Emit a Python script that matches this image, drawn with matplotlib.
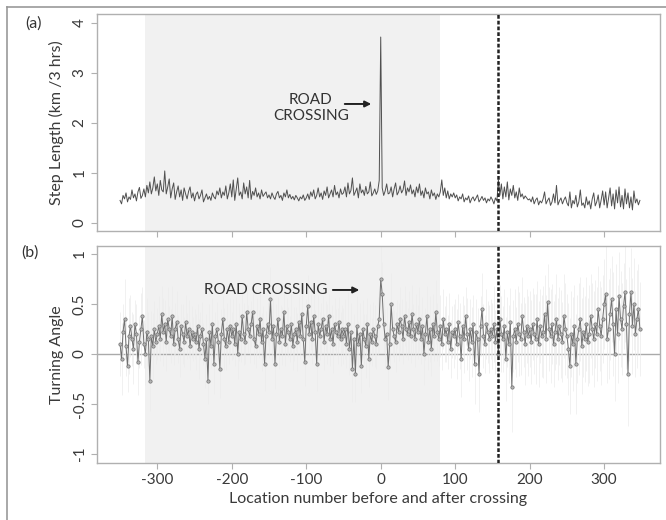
import matplotlib.pyplot as plt
from matplotlib.lines import Line2D
import numpy as np

plt.rcParams['font.family'] = ['Lato', 'DejaVu Sans']
plt.rcParams['axes.unicode_minus'] = False

# location numbers (every second location)
loc = np.arange(-350, 350, 2)

# step length, km / 3 hrs (x100)
step_len = [
    45, 38, 55, 48, 60, 42, 52, 47, 66, 50, 58, 44, 62, 71, 49, 55, 68, 52, 75, 60, 82, 58, 70, 92, 64,
    78, 55, 85, 66, 62, 104, 58, 72, 88, 50, 68, 80, 47, 62, 74, 52, 66, 45, 70, 58, 48, 63, 72, 50, 60,
    44, 57, 62, 48, 55, 66, 42, 50, 58, 47, 53, 45, 60, 52, 48, 64, 56, 70, 50, 62, 55, 74, 48, 60, 78,
    52, 86, 45, 68, 90, 55, 62, 48, 80, 58, 72, 50, 85, 47, 63, 55, 70, 52, 60, 48, 66, 53, 58, 62, 50,
    56, 48, 60, 52, 47, 58, 63, 50, 55, 45, 60, 52, 66, 50, 57, 48, 53, 46, 55, 50, 44, 52, 48, 56, 45,
    50, 58, 47, 62, 53, 66, 48, 55, 70, 52, 60, 47, 64, 55, 72, 50, 58, 66, 52, 75, 56, 62, 50, 68, 57,
    60, 72, 52, 80, 58, 65, 90, 55, 62, 70, 50, 78, 60, 66, 55, 73, 58, 62, 82, 54, 60, 68, 57, 64, 85,
    372, 70, 55, 64, 78, 58, 60, 72, 52, 68, 80, 56, 62, 74, 60, 66, 84, 55, 70, 62, 76, 58, 66, 52, 72,
    60, 78, 55, 64, 50, 70, 58, 62, 48, 66, 54, 60, 47, 58, 52, 62, 86, 55, 70, 50, 64, 48, 58, 52, 60,
    50, 56, 44, 52, 48, 58, 42, 50, 46, 54, 40, 48, 52, 44, 50, 56, 42, 47, 53, 45, 50, 40, 48, 44, 52,
    46, 38, 50, 44, 86, 55, 78, 48, 72, 52, 82, 46, 68, 55, 75, 50, 62, 45, 70, 52, 58, 48, 54, 50, 46,
    48, 42, 52, 38, 46, 50, 36, 44, 40, 48, 62, 38, 45, 50, 35, 42, 58, 40, 75, 36, 44, 50, 38, 46, 52,
    40, 34, 62, 30, 45, 38, 55, 32, 42, 66, 35, 40, 30, 52, 36, 44, 28, 48, 60, 34, 42, 56, 30, 46, 64,
    36, 62, 30, 50, 70, 34, 58, 28, 66, 40, 72, 32, 55, 28, 68, 38, 60, 30, 52, 26, 64, 40, 48, 36, 45,
]

# turning angle (x100)
turn_ang = [
    10, -5, 22, 35, 8, -12, 18, 28, 15, 5, 30, 20, -8, 12, 25, 38, 10, 0, 22, 15, -27, 18, 8, 25, 12,
    20, 28, 15, 40, 22, 30, 12, 35, 25, 18, 38, 10, 25, 32, 15, 5, 28, 20, 12, 32, 18, 25, 8, 22, 15,
    20, 12, 28, 5, 18, 25, 10, -5, 15, -27, 22, 8, 30, -10, 18, 25, 12, -15, 20, 35, 15, 8, 25, 12, 28,
    18, 25, 10, 30, 0, 22, 15, 38, 20, 12, 42, 25, 18, 30, 42, 15, 8, 28, 20, 35, 12, 25, -10, 18, 30,
    22, 55, 15, 28, -10, 20, 35, 12, 25, 18, 42, 10, 28, 22, 15, 30, 8, 20, 25, 12, 32, 18, 40, 15, -8,
    28, 48, 20, 32, 15, 38, 22, -10, 30, 18, 25, 35, 12, 28, 20, 38, 15, 25, 10, 30, 22, 18, 32, 15, 25,
    18, 25, 10, 30, 5, 22, -15, 15, -20, 28, 10, 20, -12, 25, 15, 8, 30, -5, 20, 12, 25, 18, 10, 28, 35,
    75, 60, 30, 15, 20, -13, 10, 50, 25, 18, 12, 30, 22, 35, 28, 15, 38, 25, 20, 32, 18, 40, 25, 15, 30,
    22, 35, 15, 28, 0, 20, 38, 12, 25, 5, 30, 18, 42, 22, 15, 28, 10, 35, 20, 25, 12, 30, 5, 22, 18,
    25, 10, 32, 18, -5, 28, 15, 38, 20, 5, 25, 12, 30, -10, 22, 15, -20, 28, 45, 18, 10, 30, 22, 15, 25,
    18, 30, 12, 25, 0, 35, 20, 15, 28, -5, 22, 10, 32, -33, 18, 25, 12, 30, 20, 15, 38, 22, 10, 28, 18,
    25, 12, 30, 20, 15, 35, 10, 28, 18, 22, 40, 15, 52, 25, 18, 30, 10, 22, 35, 15, 28, 20, 12, 38, 25,
    18, 5, -12, 20, 10, 28, -10, 15, 25, 35, 8, 22, 15, 30, 12, 20, 38, 25, 15, 30, 20, 45, 28, 18, 35,
    50, 60, 15, 25, 40, 55, 30, 0, 45, 20, 58, 35, 25, 48, 62, 30, -20, 40, 62, 28, 50, 20, 35, 45, 25,
]

# turning angle error half-width (x100)
turn_err = [
    32, 36, 28, 40, 30, 26, 38, 31, 27, 35, 24, 30, 33, 26, 36, 29, 24, 31, 34, 27, 30, 25, 33, 28, 22,
    26, 30, 22, 28, 34, 24, 29, 32, 23, 27, 30, 21, 26, 31, 24, 28, 22, 30, 25, 27, 23, 29, 24, 26, 22,
    25, 28, 22, 30, 24, 27, 21, 29, 25, 23, 28, 22, 26, 30, 24, 27, 22, 29, 25, 23, 31, 24, 26, 22, 28,
    24, 30, 22, 27, 25, 29, 23, 26, 31, 22, 28, 24, 27, 23, 30, 25, 22, 28, 24, 26, 29, 23, 27, 25, 22,
    26, 32, 23, 28, 25, 30, 22, 27, 24, 29, 26, 22, 28, 25, 23, 30, 24, 27, 22, 29, 25, 23, 28, 26, 24,
    27, 31, 23, 28, 25, 30, 22, 27, 29, 24, 26, 23, 28, 25, 30, 22, 27, 24, 29, 26, 23, 28, 25, 27, 24,
    28, 30, 24, 32, 26, 29, 33, 25, 28, 30, 23, 31, 27, 29, 25, 32, 26, 28, 30, 24, 27, 31, 25, 29, 33,
    34, 32, 28, 30, 27, 33, 25, 31, 28, 26, 30, 24, 29, 32, 27, 25, 30, 28, 26, 31, 27, 29, 25, 28, 30,
    27, 32, 25, 29, 31, 26, 30, 28, 33, 27, 30, 25, 32, 29, 27, 31, 26, 30, 28, 33, 27, 31, 29, 26, 32,
    30, 35, 28, 33, 38, 30, 34, 29, 36, 32, 30, 35, 29, 40, 33, 31, 38, 30, 36, 32, 29, 35, 31, 34, 30,
    33, 38, 32, 36, 40, 34, 38, 33, 37, 42, 35, 39, 34, 45, 36, 40, 35, 38, 42, 36, 39, 35, 41, 37, 40,
    38, 42, 36, 40, 45, 38, 43, 37, 41, 46, 39, 44, 38, 42, 47, 40, 43, 38, 45, 41, 39, 44, 40, 42, 46,
    42, 46, 48, 43, 47, 41, 50, 44, 46, 42, 48, 45, 43, 47, 44, 49, 42, 46, 48, 44, 47, 43, 45, 49, 44,
    45, 48, 44, 50, 46, 43, 52, 47, 45, 49, 44, 48, 46, 43, 50, 45, 52, 47, 44, 48, 46, 43, 49, 45, 47,
]

step_len = np.array(step_len) / 100
turn_ang = np.array(turn_ang) / 100
turn_err = np.array(turn_err) / 100

shade = (-316, 79)
crossing_line = 157

fig = plt.figure(figsize=(6.66, 5.2), dpi=100)
ax1 = fig.add_axes([0.1456, 0.556, 0.8454, 0.417])
ax2 = fig.add_axes([0.1456, 0.1096, 0.8454, 0.4174])

frame_col = '#b0b0b0'
txt_col = '#3a3a3a'
for ax in (ax1, ax2):
    ax.axvspan(shade[0], shade[1], color='#f1f1f1', lw=0, zorder=0)
    ax.axvline(crossing_line, color='#222222', lw=1.8, ls=(0, (1.5, 0.8)), zorder=5)
    ax.set_xlim(-381, 375)
    ax.set_xticks([-300, -200, -100, 0, 100, 200, 300])
    for s in ax.spines.values():
        s.set_color(frame_col)
        s.set_linewidth(1.0)
    ax.tick_params(direction='out', length=4, color=frame_col, labelcolor=txt_col,
                   labelsize=11, width=0.8)

# (a) step length
ax1.plot(loc, step_len, color='#505050', lw=0.7, zorder=3)
ax1.set_ylim(-0.16, 4.18)
ax1.set_yticks([0, 1, 2, 3, 4])
ax1.set_yticklabels(['0', '1', '2', '3', '4'], rotation=90, va='center')
ax1.tick_params(axis='x', labelbottom=False)
ax1.set_ylabel('Step Length (km /3 hrs)', fontsize=11.5, color=txt_col, labelpad=6)
ax1.text(-94, 2.3, 'ROAD\nCROSSING', ha='center', va='center', fontsize=11,
         color='#333333', linespacing=1.15)
ax1.annotate('', xy=(-9, 2.38), xytext=(-52, 2.38),
             arrowprops=dict(arrowstyle='-|>', color='#222222', lw=1.4, mutation_scale=9))

# (b) turning angle
ax2.axhline(0, color='#aaaaaa', lw=1.0, zorder=1)
ax2.vlines(loc, turn_ang - turn_err, turn_ang + turn_err, color='#ececec', lw=0.5, zorder=2)
ax2.plot(loc, turn_ang, color='#707070', lw=0.7, marker='o', ms=2.4, mfc='#b5b5b5',
         mec='#707070', mew=0.5, zorder=3)
ax2.set_ylim(-1.09, 1.08)
ax2.set_yticks([-1, -0.5, 0, 0.5, 1])
ax2.set_yticklabels(['-1', '-0.5', '0', '0.5', '1'], rotation=90, va='center')
ax2.set_ylabel('Turning Angle', fontsize=11.5, color=txt_col, labelpad=6)
ax2.set_xlabel('Location number before and after crossing', fontsize=11.5, color=txt_col,
               labelpad=3)
ax2.text(-155, 0.64, 'ROAD CROSSING', ha='center', va='center', fontsize=11, color='#333333')
ax2.annotate('', xy=(-25, 0.64), xytext=(-68, 0.64),
             arrowprops=dict(arrowstyle='-|>', color='#222222', lw=1.4, mutation_scale=9))

fig.text(33 / 666, 1 - 24 / 520, '(a)', ha='center', va='center', fontsize=11.5, color='#333333')
fig.text(30 / 666, 1 - 253 / 520, '(b)', ha='center', va='center', fontsize=11.5, color='#333333')

# outer frame (top and left edges)
fig.add_artist(Line2D([7 / 666, 7 / 666], [0, 1 - 7 / 520], transform=fig.transFigure,
                      color='#999999', lw=1.2))
fig.add_artist(Line2D([7 / 666, 1], [1 - 7 / 520, 1 - 7 / 520], transform=fig.transFigure,
                      color='#999999', lw=1.2))

fig.savefig('out.png', dpi=100)
